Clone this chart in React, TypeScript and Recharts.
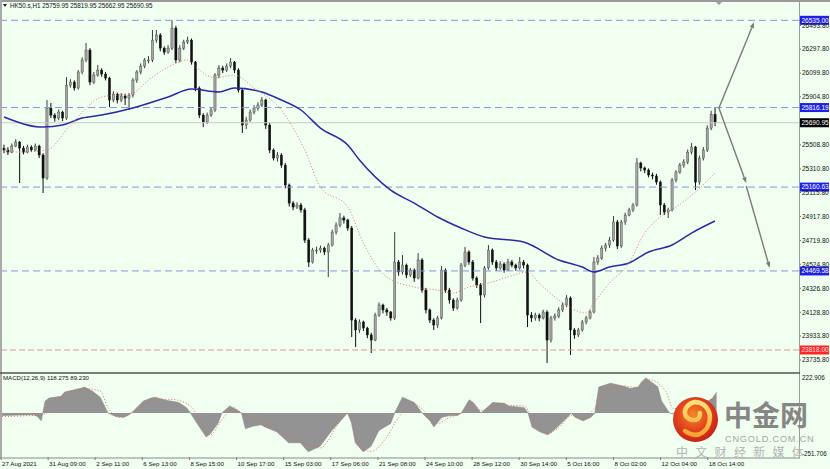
import React from "react"
import { ComposedChart, Bar, Line, Area, XAxis, YAxis, ReferenceLine } from "recharts"

// HK50.s H1 candles, 27 Aug - 18 Oct 2021
const SLOTS = 204 // 183 bars + empty chart shift on the right
const firstOpen = 25480

const closes = [
  25466, 25449, 25499, 25532, 25482, 25449, 25491, 25466, 25499, 25425,
  25235, 25812, 25754, 25730, 25779, 25730, 26001, 26026, 25977, 26109,
  26208, 26290, 26026, 26084, 26125, 26092, 26059, 25878, 25927, 25878,
  25911, 25894, 25919, 26043, 26109, 26158, 26208, 26208, 26372, 26414,
  26306, 26273, 26306, 26471, 26208, 26306, 26356, 26372, 26191, 25977,
  25754, 25697, 25754, 25796, 26084, 26142, 26125, 26158, 26191, 26125,
  25960, 25672, 25713, 25779, 25812, 25837, 25878, 25672, 25466, 25400,
  25425, 25342, 25178, 25029, 24996, 25013, 24972, 24724, 24543, 24642,
  24642, 24658, 24626, 24683, 24790, 24848, 24906, 24889, 24823, 24065,
  23983, 24049, 23999, 23942, 23900, 24106, 24189, 24148, 24131, 24082,
  24543, 24461, 24518, 24436, 24477, 24411, 24560, 24312, 24148, 24065,
  24024, 24082, 24477, 24312, 24230, 24164, 24230, 24518, 24626, 24543,
  24411, 24354, 24271, 24494, 24642, 24543, 24494, 24527, 24477, 24543,
  24518, 24494, 24543, 24518, 24106, 24082, 24106, 24082, 24131, 23900,
  24082, 24098, 24148, 24189, 24246, 23983, 23942, 23983, 24049, 24082,
  24131, 24543, 24576, 24658, 24683, 24724, 24873, 24675, 24873, 24930,
  24972, 25013, 25359, 25318, 25301, 25260, 25252, 25202, 25013, 24955,
  24972, 25219, 25285, 25342, 25367, 25449, 25491, 25202, 25400, 25466,
  25647, 25759.95, 25690.95,
]

const highs = [
  25510, 25490, 25520, 25555, 25540, 25500, 25510, 25505, 25520, 25510,
  25440, 25878, 25853, 25770, 25800, 25790, 26067, 26050, 26040, 26125,
  26230, 26348, 26306, 26110, 26166, 26140, 26110, 26070, 25950, 25940,
  25935, 25930, 25935, 26060, 26125, 26180, 26225, 26240, 26455, 26455,
  26430, 26320, 26330, 26537, 26490, 26330, 26375, 26400, 26385, 26200,
  25990, 25770, 25775, 25820, 26100, 26166, 26160, 26180, 26224, 26200,
  26140, 25975, 25740, 25800, 25835, 25860, 25903, 25890, 25690, 25480,
  25450, 25440, 25360, 25190, 25045, 25035, 25030, 24990, 24740, 24660,
  24670, 24680, 24670, 24700, 24810, 24870, 24947, 24925, 24900, 24840,
  24080, 24070, 24060, 24010, 23960, 24125, 24210, 24200, 24165, 24140,
  24790, 24560, 24601, 24530, 24495, 24490, 24617, 24575, 24330, 24160,
  24080, 24100, 24510, 24490, 24330, 24245, 24250, 24535, 24667, 24640,
  24560, 24425, 24370, 24510, 24683, 24655, 24560, 24550, 24540, 24570,
  24560, 24530, 24584, 24560, 24530, 24130, 24125, 24120, 24150, 24145,
  24100, 24120, 24170, 24210, 24271, 24260, 24000, 24000, 24065, 24100,
  24150, 24584, 24600, 24680, 24700, 24750, 24922, 24890, 24890, 24950,
  24990, 25030, 25400, 25370, 25330, 25315, 25280, 25270, 25215, 25030,
  24990, 25235, 25300, 25360, 25390, 25470, 25524, 25500, 25420, 25490,
  25670, 25790, 25819.95,
]

const lows = [
  25440, 25425, 25440, 25490, 25194, 25430, 25440, 25450, 25455, 25400,
  25112, 25220, 25730, 25700, 25715, 25705, 25715, 25980, 25955, 25965,
  26090, 26190, 26001, 26010, 26070, 26070, 26040, 25820, 25860, 25850,
  25860, 25837, 25796, 25900, 26020, 26090, 26140, 26180, 26190, 26350,
  26280, 26250, 26260, 26290, 26183, 26190, 26290, 26340, 26170, 25950,
  25730, 25655, 25680, 25740, 25780, 26060, 26100, 26110, 26140, 26100,
  25940, 25606, 25640, 25700, 25760, 25790, 25820, 25640, 25440, 25380,
  25370, 25320, 25150, 25000, 24970, 24980, 24950, 24700, 24502, 24530,
  24610, 24620, 24600, 24419, 24670, 24770, 24830, 24860, 24800, 23925,
  23843, 23960, 23975, 23915, 23793, 23890, 24090, 24120, 24100, 24060,
  24065, 24430, 24440, 24410, 24420, 24380, 24400, 24290, 24120, 24040,
  23983, 24000, 24070, 24290, 24200, 24140, 24150, 24215, 24500, 24520,
  24390, 24330, 24040, 24250, 24480, 24520, 24470, 24480, 24455, 24470,
  24500, 24470, 24480, 24490, 24007, 24050, 24060, 24055, 24070, 23711,
  23880, 24060, 24080, 24130, 24170, 23777, 23910, 23925, 23970, 24030,
  24070, 24120, 24520, 24560, 24630, 24660, 24710, 24650, 24660, 24850,
  24920, 24955, 25000, 25290, 25275, 25240, 25225, 25180, 24930, 24930,
  24906, 24960, 25200, 25270, 25320, 25350, 25430, 25136, 25180, 25380,
  25450, 25630, 25662.95,
]

// moving averages, read at sample bars: [bar, price]
const maSlow = [
  [0, 25738], [10, 25655], [15, 25672], [20, 25730], [25, 25754], [33, 25812],
  [42, 25903], [48, 25968], [55, 25944], [59, 25977], [66, 25944], [71, 25878],
  [76, 25796], [81, 25647], [88, 25507], [91, 25384], [99, 25136], [105, 25029],
  [111, 24914], [117, 24823], [123, 24749], [133, 24708], [142, 24560], [148, 24502],
  [151, 24461], [155, 24502], [160, 24535], [165, 24626], [171, 24683], [176, 24782],
  [182, 24881],
]
const maFast = [
  [0, 25466], [4, 25449], [11, 25466], [17, 25672], [25, 25903], [33, 25936],
  [37, 26043], [43, 26166], [47, 26208], [50, 26125], [54, 26059], [59, 26084],
  [64, 25977], [71, 25796], [77, 25466], [81, 25161], [88, 24996], [92, 24700],
  [98, 24419], [105, 24337], [111, 24312], [115, 24288], [119, 24337], [124, 24370],
  [129, 24419], [134, 24461], [137, 24370], [142, 24230], [149, 24123], [151, 24206],
  [155, 24370], [160, 24535], [164, 24782], [168, 24914], [172, 24996], [177, 25120],
  [182, 25277],
]

// MACD(12,26,9): histogram and signal, [bar, value]
const macdHist = [
  [0, -15], [4, -12], [8, -10], [9, -20], [10, -45], [11, 68], [12, 85], [15, 95],
  [16, 120], [18, 130], [20, 140], [21, 148], [23, 125], [25, 90], [27, 0], [29, -20],
  [31, -25], [32, -15], [33, 0], [36, 68], [38, 85], [39, 90], [42, 72], [43, 68],
  [45, 60], [47, 30], [48, 0], [50, -70], [52, -137], [53, -120], [55, -60], [56, 0],
  [58, 40], [60, 15], [61, 0], [62, -90], [64, -75], [66, -68], [67, -80], [70, -108],
  [73, -170], [76, -170], [78, -222], [81, -190], [84, -100], [88, 0], [89, -55],
  [90, -170], [92, -222], [94, -190], [96, -100], [99, -60], [100, 0], [102, 90],
  [105, 60], [107, 0], [109, -45], [110, -80], [112, -25], [114, -15], [116, -15],
  [117, 0], [119, 75], [120, 60], [122, 0], [125, 60], [128, 55], [129, 40], [133, 30],
  [134, 0], [135, -80], [137, -108], [139, -125], [141, -90], [144, -25], [145, 0],
  [146, -25], [148, -45], [150, -25], [151, 0], [152, 148], [155, 170], [157, 160],
  [159, 148], [160, 140], [162, 148], [163, 180], [164, 200], [167, 150], [168, 68],
  [170, 0], [171, -5], [173, 40], [176, 70], [180, 70], [181, 85], [182, 118.275],
]
const macdSignal = [
  [0, -20], [7, -15], [11, -5], [14, 68], [21, 140], [25, 125], [27, 30], [30, -25],
  [34, 15], [39, 75], [43, 78], [48, 40], [53, -125], [56, -40], [59, 30], [61, 0],
  [66, -55], [70, -100], [76, -165], [81, -200], [86, -50], [88, 0], [91, -190],
  [94, -220], [98, -137], [101, -25], [105, 50], [108, 0], [111, -60], [114, -25],
  [117, 0], [120, 55], [122, 15], [126, 45], [133, 40], [135, -25], [139, -118],
  [142, -80], [145, -15], [148, -35], [151, 30], [155, 145], [158, 155], [162, 145],
  [165, 190], [169, 125], [171, 25], [176, 40], [180, 70], [182, 89.23],
]

const dateLabels = [
  "27 Aug 2021", "31 Aug 09:00", "2 Sep 11:00", "6 Sep 13:00", "8 Sep 15:00",
  "10 Sep 17:00", "15 Sep 03:00", "17 Sep 06:00", "21 Sep 08:00", "24 Sep 10:00",
  "28 Sep 12:00", "30 Sep 14:00", "5 Oct 16:00", "8 Oct 02:00", "12 Oct 04:00",
  "18 Oct 14:00",
]

const priceTicks = [
  26493.8, 26297.8, 26099.8, 25904.8, 25508.8, 25310.8, 25115.8, 24917.8,
  24719.8, 24524.8, 24326.8, 24128.8, 23933.8, 23735.8,
]
const blueLevels = [26535.0, 25816.19, 25160.63, 24469.58]
const supportLevel = 23818.0
const lastPrice = 25690.95

// projection arrows drawn by the analyst: [bar, price] -> [bar, price]
const arrows = [
  [[183, 25812], [192, 26520]],
  [[183, 25812], [190, 25194]],
  [[190, 25170], [196, 24494]],
]

const BG = "#f0fff0"
const FONT = "Liberation Sans, Arial, sans-serif"

const rows: any[] = Array.from({ length: SLOTS }, (_, i) => {
  const has = i < closes.length
  return {
    i,
    o: has ? (i === 0 ? firstOpen : closes[i - 1]) : null,
    c: has ? closes[i] : null,
    h: has ? highs[i] : null,
    l: has ? lows[i] : null,
    range: has ? [lows[i], highs[i]] : null,
    maSlow: null,
    maFast: null,
    hist: null,
    signal: null,
  }
})
maSlow.forEach(([i, v]) => (rows[i].maSlow = v))
maFast.forEach(([i, v]) => (rows[i].maFast = v))
macdHist.forEach(([i, v]) => (rows[i].hist = v))
macdSignal.forEach(([i, v]) => (rows[i].signal = v))

const Candle = (props: any) => {
  const { x, y, width, height, payload } = props
  if (!payload || payload.c == null || !height) return null
  const { o, c, h, l } = payload
  const top = Math.min(y, y + height)
  const hh = Math.abs(height)
  const k = hh / (h - l)
  const cx = x + width / 2
  const bodyTop = top + (h - Math.max(o, c)) * k
  const bodyH = Math.max(1, Math.abs(o - c) * k)
  const up = c >= o
  const bw = 2.2
  return (
    <g>
      <line x1={cx} x2={cx} y1={top} y2={top + hh} stroke={up ? "#3c3c3c" : "#0d0d0d"} strokeWidth={1} />
      <rect
        x={cx - bw / 2}
        y={bodyTop}
        width={bw}
        height={bodyH}
        fill={up ? "#a4a4a4" : "#111111"}
        stroke={up ? "#3c3c3c" : "#111111"}
        strokeWidth={0.4}
      />
    </g>
  )
}

const PriceTag = ({ viewBox, value, bg, fg }: any) => {
  if (!viewBox) return null
  const x = viewBox.x + viewBox.width + 1
  const y = viewBox.y
  return (
    <g>
      <rect x={x} y={y - 4.5} width={29} height={9} fill={bg} />
      <text x={x + 1.5} y={y + 2.3} fontSize={6.5} fill={fg} fontFamily={FONT}>
        {value.toFixed(2)}
      </text>
    </g>
  )
}

const arrowShape = (p: any) => {
  const { x1, y1, x2, y2 } = p
  const a = Math.atan2(y2 - y1, x2 - x1)
  const len = 6
  const w = 2.2
  const bx = x2 - len * Math.cos(a)
  const by = y2 - len * Math.sin(a)
  const pts = [
    [x2, y2],
    [bx + w * Math.sin(a), by - w * Math.cos(a)],
    [bx - w * Math.sin(a), by + w * Math.cos(a)],
  ]
  return (
    <g>
      <line x1={x1} y1={y1} x2={bx} y2={by} stroke="#7a7a7a" strokeWidth={1.4} />
      <polygon points={pts.map((q) => q.join(",")).join(" ")} fill="#7a7a7a" />
    </g>
  )
}

const PriceTick = (props: any) => {
  const { x, y, payload } = props
  return (
    <text x={x} y={y + 2.3} fontSize={6.5} fill="#111" fontFamily={FONT}>
      {Number(payload.value).toFixed(2)}
    </text>
  )
}

const MacdTick = (props: any) => {
  const { x, y, payload } = props
  const dy = payload.value > 0 ? 5.5 : -1
  return (
    <text x={x} y={y + dy} fontSize={6.3} fill="#111" fontFamily={FONT}>
      {payload.value}
    </text>
  )
}

const DateTick = (props: any) => {
  const { x, y, payload } = props
  const label = dateLabels[payload.value / 12]
  if (!label) return null
  return (
    <g>
      <line x1={x - 1} x2={x - 1} y1={y} y2={y + 3} stroke="#555" strokeWidth={0.8} />
      <text x={x} y={y + 9} fontSize={6.2} fill="#111" fontFamily={FONT}>
        {label}
      </text>
    </g>
  )
}

export default function App() {
  return (
    <div style={{ position: "absolute", left: 0, top: 0, width: 830, height: 469, background: BG, overflow: "hidden" }}>
      <div style={{ position: "absolute", left: 0, top: 0 }}>
        <ComposedChart
          width={830}
          height={372}
          data={rows}
          margin={{ top: 2, right: 0, left: 2, bottom: 1 }}
          barCategoryGap={0}
          barGap={0}
        >
          <XAxis dataKey="i" type="category" hide />
          <YAxis
            orientation="right"
            width={31}
            type="number"
            domain={[23645, 26686]}
            allowDataOverflow
            ticks={priceTicks}
            tick={<PriceTick />}
            tickSize={2}
            tickMargin={1}
            axisLine={false}
            tickLine={{ stroke: "#666" }}
            interval={0}
          />
          <ReferenceLine y={lastPrice} stroke="#c9c9c9" strokeWidth={1} />
          {blueLevels.map((v) => (
            <ReferenceLine
              key={v}
              y={v}
              stroke="#8796d6"
              strokeDasharray="7 4"
              strokeWidth={1}
              label={(p: any) => <PriceTag viewBox={p.viewBox} value={v} bg="#1f1fe8" fg="#ffffff" />}
            />
          ))}
          <ReferenceLine
            y={supportLevel}
            stroke="#e29a94"
            strokeDasharray="6 3"
            strokeWidth={1}
            label={(p: any) => <PriceTag viewBox={p.viewBox} value={supportLevel} bg="#ff2626" fg="#ffe0e0" />}
          />
          <ReferenceLine
            y={lastPrice}
            stroke="none"
            label={(p: any) => <PriceTag viewBox={p.viewBox} value={lastPrice} bg="#000000" fg="#ffffff" />}
          />
          <Bar dataKey="range" shape={<Candle />} isAnimationActive={false} />
          <Line
            dataKey="maSlow"
            type="monotone"
            stroke="#2a2aa8"
            strokeWidth={1.5}
            dot={false}
            connectNulls
            isAnimationActive={false}
          />
          <Line
            dataKey="maFast"
            type="monotone"
            stroke="#e07a6a"
            strokeWidth={1}
            strokeDasharray="1 2"
            dot={false}
            connectNulls
            isAnimationActive={false}
          />
          {arrows.map((a, k) => (
            <ReferenceLine
              key={k}
              segment={[
                { x: a[0][0], y: a[0][1] },
                { x: a[1][0], y: a[1][1] },
              ]}
              stroke="#7a7a7a"
              shape={arrowShape}
            />
          ))}
        </ComposedChart>
      </div>

      <div style={{ position: "absolute", left: 0, top: 372 }}>
        <ComposedChart width={830} height={97} data={rows} margin={{ top: 2, right: 0, left: 2, bottom: 0 }}>
          <XAxis
            dataKey="i"
            type="category"
            interval={11}
            height={12}
            tick={<DateTick />}
            tickSize={0}
            tickMargin={0}
            axisLine={false}
            tickLine={false}
          />
          <YAxis
            orientation="right"
            width={31}
            type="number"
            domain={[-251.706, 222.906]}
            allowDataOverflow
            ticks={[222.906, -251.706]}
            tick={<MacdTick />}
            tickSize={2}
            tickMargin={1}
            axisLine={false}
            tickLine={false}
            interval={0}
          />
          <Area
            dataKey="hist"
            type="linear"
            baseValue={0}
            fill="#939393"
            fillOpacity={1}
            stroke="#8a8a8a"
            strokeWidth={0.6}
            connectNulls
            isAnimationActive={false}
          />
          <Line
            dataKey="signal"
            type="monotone"
            stroke="#e06a5a"
            strokeWidth={1}
            strokeDasharray="1 2"
            dot={false}
            connectNulls
            isAnimationActive={false}
          />
        </ComposedChart>
      </div>

      <svg width={830} height={469} style={{ position: "absolute", left: 0, top: 0, pointerEvents: "none" }}>
        <defs>
          <radialGradient id="logoGrad" cx="45%" cy="40%" r="60%">
            <stop offset="0%" stopColor="#f08a2a" />
            <stop offset="55%" stopColor="#e4461e" />
            <stop offset="100%" stopColor="#c8221a" />
          </radialGradient>
          <linearGradient id="swirlGrad" x1="0" y1="0" x2="0" y2="1">
            <stop offset="0%" stopColor="#ffe27a" />
            <stop offset="100%" stopColor="#f7a531" />
          </linearGradient>
        </defs>
        {/* MT4 frame */}
        <line x1={0} x2={830} y1={1} y2={1} stroke="#9a9a9a" strokeWidth={2} />
        <line x1={1} x2={1} y1={0} y2={458} stroke="#aaaaaa" strokeWidth={2} />
        <line x1={799.5} x2={799.5} y1={0} y2={458} stroke="#9a9a9a" strokeWidth={1} />
        <line x1={0} x2={800} y1={373} y2={373} stroke="#555555" strokeWidth={1.5} />
        <line x1={0} x2={800} y1={458} y2={458} stroke="#8a8a8a" strokeWidth={1} />
        <polygon points="716,2 722,2 719,5" fill="#9a9a9a" />

        <polygon points="3,4 7,4 5,7" fill="#222" />
        <text x={10} y={7.5} fontSize={6.3} fill="#111" fontFamily={FONT}>
          HK50.s,H1  25759.95 25819.95 25662.95 25690.95
        </text>
        <text x={3} y={380} fontSize={6.1} fill="#111" fontFamily={FONT}>
          MACD(12,26,9) 118.275 89.230
        </text>

        {/* cngold watermark */}
        <circle cx={695.5} cy={419.5} r={22.5} fill="url(#logoGrad)" />
        <path
          d="M 685 431 Q 698 440 707 428 Q 714 414 704 405 Q 693 398 686 408 Q 682 417 692 420 Q 700 421 700 413"
          stroke="url(#swirlGrad)"
          strokeWidth={4.5}
          fill="none"
          strokeLinecap="round"
        />
        <text x={724} y={426} fontSize={28} fontWeight="bold" fill="#868686" fontFamily="Noto Sans CJK SC">
          中金网
        </text>
        <text x={725} y={442} fontSize={9.2} fill="#a6a6a6" letterSpacing={0.8} fontFamily={FONT}>
          CNGOLD.COM.CN
        </text>
        <text x={676} y={457} fontSize={12} fill="#b4b4b4" letterSpacing={7.3} fontFamily="Noto Sans CJK SC">
          中文财经新媒体
        </text>
      </svg>
    </div>
  )
}
